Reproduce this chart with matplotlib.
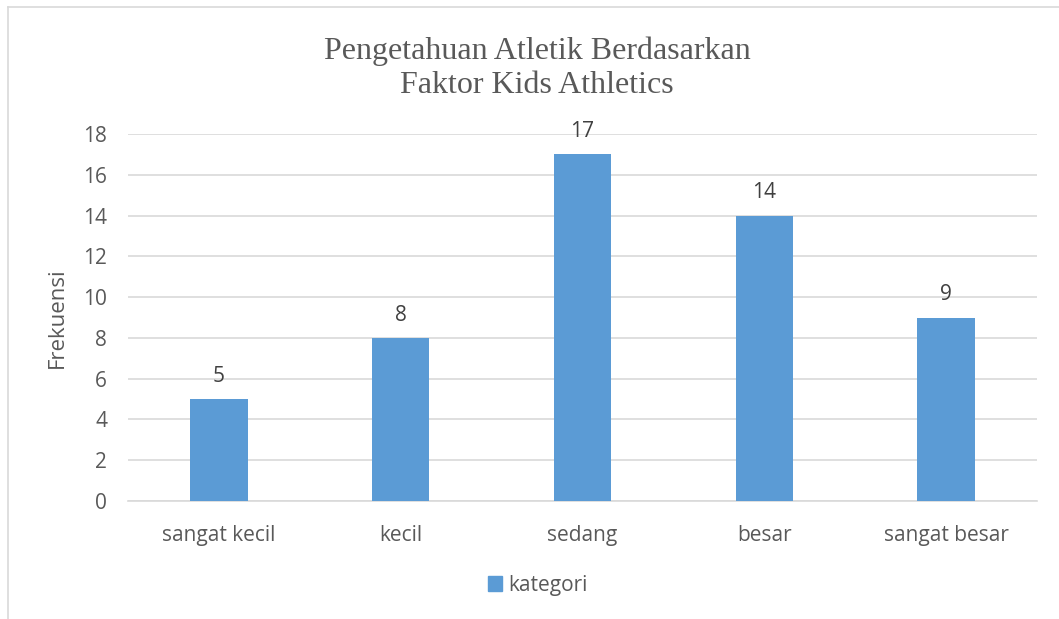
import matplotlib.pyplot as plt
from matplotlib.lines import Line2D
from matplotlib.patches import Patch

categories = ['sangat kecil', 'kecil', 'sedang', 'besar', 'sangat besar']
values = [5, 8, 17, 14, 9]
series_name = 'kategori'
title = 'Pengetahuan Atletik Berdasarkan\nFaktor Kids Athletics'
y_label = 'Frekuensi'

bar_color = '#5B9BD5'
text_color = '#595959'
grid_color = '#D9D9D9'
sans = ['Open Sans', 'DejaVu Sans']

fig = plt.figure(figsize=(10.59, 6.19), dpi=100)
ax = fig.add_axes([128 / 1059, 1 - 501 / 619, 909 / 1059, 367 / 619])

x = range(len(categories))
ax.bar(x, values, width=0.315, color=bar_color, zorder=3, label=series_name)
for xi, v in zip(x, values):
    ax.text(xi, v + 0.6, str(v), ha='center', va='bottom', fontsize=15,
            color='#404040', family=sans)

ax.set_xlim(-0.5, len(categories) - 0.5)
ax.set_ylim(0, 18)
ax.set_yticks(range(0, 19, 2))
ax.set_xticks(list(x))
ax.set_xticklabels(categories)
ax.yaxis.grid(True, color=grid_color, linewidth=1.2, zorder=0)
for s in ['top', 'right', 'left']:
    ax.spines[s].set_visible(False)
ax.spines['bottom'].set_color(grid_color)
ax.spines['bottom'].set_linewidth(1.2)
ax.tick_params(axis='both', length=0, labelsize=15, labelcolor=text_color)
ax.tick_params(axis='x', pad=17)
ax.tick_params(axis='y', pad=15)
for lbl in ax.get_xticklabels() + ax.get_yticklabels():
    lbl.set_family(sans)
ax.set_ylabel(y_label, fontsize=16, color=text_color, family=sans)
ax.yaxis.set_label_coords(-60 / 909, 0.5)

fig.text(0.507, 1 - 68 / 619, title, ha='center', va='center', fontsize=23,
         color=text_color, family=['Liberation Serif'], linespacing=1.22)

leg = fig.legend(handles=[Patch(color=bar_color, label=series_name)],
                 loc='center', bbox_to_anchor=(0.508, 1 - 585 / 619), frameon=False,
                 handlelength=0.7, handleheight=0.7, handletextpad=0.3,
                 prop={'family': sans, 'size': 15})
for t in leg.get_texts():
    t.set_color(text_color)

# chart frame
fig.add_artist(Line2D([8 / 1059, 8 / 1059], [0, 1 - 7 / 619], color='#D9D9D9',
                      linewidth=1.2, transform=fig.transFigure))
fig.add_artist(Line2D([8 / 1059, 1], [1 - 7 / 619, 1 - 7 / 619], color='#D9D9D9',
                      linewidth=1.2, transform=fig.transFigure))

fig.savefig('out.png', dpi=100)
